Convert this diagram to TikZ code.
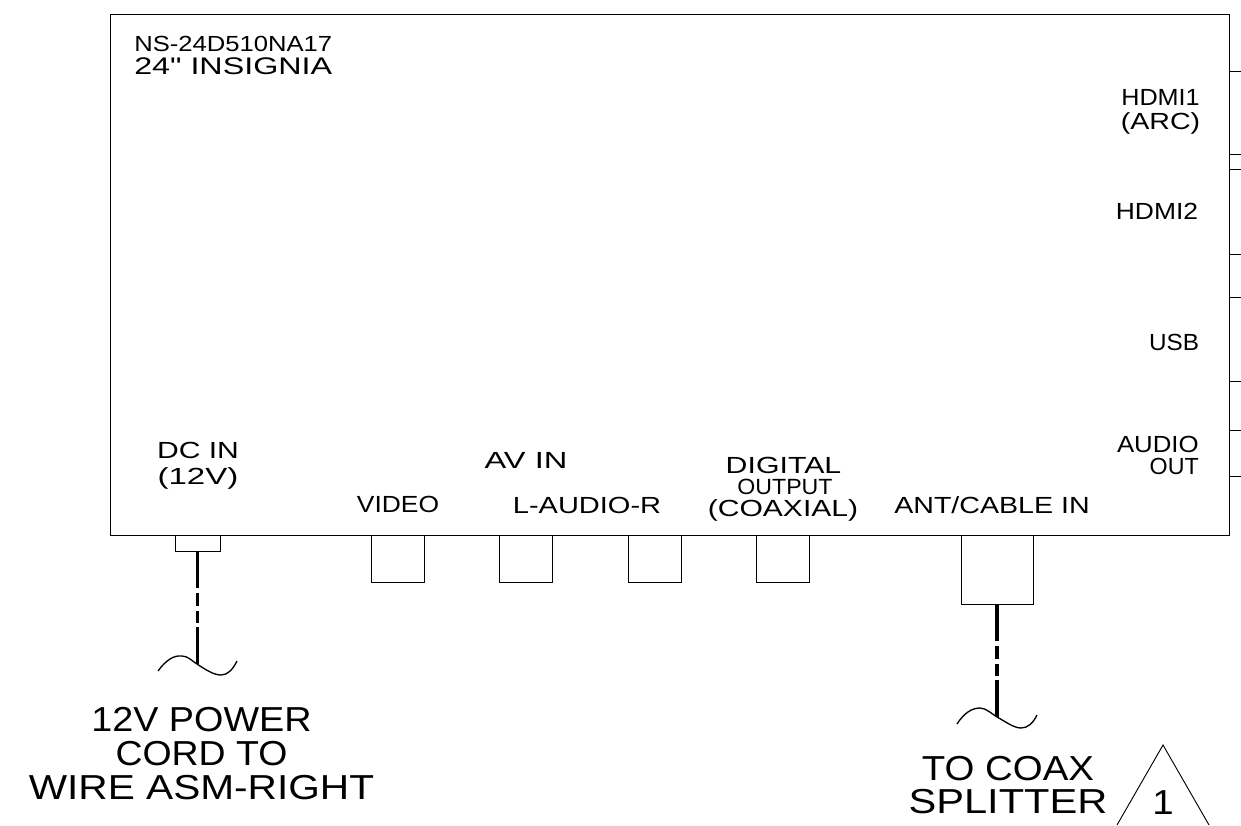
\documentclass[tikz,border=0pt]{standalone}
\usepackage{fontspec}
\newfontfamily\lbfont{Liberation Sans}
\newcommand{\fs}[2]{\lbfont\fontsize{#1}{#2}\selectfont}
\newcommand{\sx}[2]{\scalebox{#1}[1]{#2}}
\tikzset{
  x=0.75pt,y=-0.75pt,
  line/.style={draw=black,line width=0.7pt},
  portbox/.style={draw=black,line width=0.6pt,minimum width=53*0.75pt,minimum height=47*0.75pt,inner sep=0pt,outer sep=0pt,fill=none},
  wire/.style={line width=2.5pt,draw=black,dash pattern=on 37*0.75pt off 5*0.75pt on 13*0.75pt off 5*0.75pt on 12*0.75pt off 4*0.75pt on 38*0.75pt off 0pt},
  wave/.style={line width=1pt,draw=black},
  small/.style={inner sep=0pt,font=\fs{17.5}{16.5},align=center},
  big/.style={inner sep=0pt,font=\fs{26}{25.3},align=center},
}
\begin{document}
\begin{tikzpicture}
\useasboundingbox (0,0) rectangle (1241,825);
\node[draw=black,line width=0.7pt,minimum width=1119*0.75pt,minimum height=521*0.75pt,inner sep=0pt,outer sep=0pt] (tv) at (669.5,274.5) {};
% right ticks
\foreach \y/\n in {71/a,154/b,169/c,254/d,297/e,381/f,430/g,476/h}{
  \coordinate (t\n) at (1241,\y);
  \draw[line,line width=0.6pt] (tv.east |- t\n) -- (t\n);
}
% ports
\node[portbox,minimum width=45*0.75pt,minimum height=16*0.75pt] (dc) at (197.5,543) {};
\node[portbox] (video) at (397.5,558.5) {};
\node[portbox] (audl) at (525.5,558.5) {};
\node[portbox] (audr) at (654.5,558.5) {};
\node[portbox] (coax) at (783,558.5) {};
\node[portbox,minimum width=72*0.75pt,minimum height=69*0.75pt] (ant) at (997,569.5) {};
% wires
\coordinate (dcend) at (197.5,664);
\coordinate (antend) at (997,717);
\draw[wire] (dc.south) -- (dcend);
\draw[wire] (ant.south) -- (antend);
\draw[wave] (158,671) .. controls (166,660) and (174,655) .. (182,656) .. controls (188,656) and (192,661) .. (197,664) .. controls (206,670) and (214,675) .. (221,675) .. controls (228,675) and (233,669) .. (237,661);
\draw[wave] (957,724) .. controls (964,713) and (972,708) .. (980,708) .. controls (986,708) and (992,714) .. (997,717) .. controls (1006,722) and (1014,728) .. (1021,728) .. controls (1028,728) and (1033,723) .. (1037,715);
% triangle
\coordinate (tria) at (1163,745);
\coordinate (tril) at (1117,825);
\coordinate (trir) at (1209,825);
\draw[line] (tril) -- (tria) -- (trir);
% texts
\node[small,font=\fs{17.5}{17},align=left,anchor=west] (model) at (134,55.5) {\sx{1.171}{\fontsize{16.4}{16.4}\selectfont NS-24D510NA17}\\\sx{1.344}{\fontsize{18}{18}\selectfont 24" INSIGNIA}};
\node[small,font=\fs{17.5}{17.5}] (hdmia) at (1160.5,112) {\sx{1.08}{HDMI1}\\\sx{1.225}{(ARC)}};
\node[small] (hdmib) at (1157,211) {\sx{1.133}{HDMI2}};
\node[small] (usb) at (1174,342) {\sx{1.042}{USB}};
\node[small,align=right,anchor=east] (aud) at (1199,455) {\sx{1.106}{AUDIO}\\\sx{0.996}{OUT}};
\node[small,font=\fs{17.5}{19.5}] (dcin) at (198,465.5) {\sx{1.289}{DC IN}\\\sx{1.417}{(12V)}};
\node[small] (vid) at (398,504) {\sx{1.133}{VIDEO}};
\node[small] (avin) at (526,460) {\sx{1.398}{AV IN}};
\node[small] (laud) at (587,505) {\sx{1.243}{L-AUDIO-R}};
\node[small] (dig) at (783.5,465) {\sx{1.298}{DIGITAL}};
\node[small,font=\fs{16.5}{16.5}] (outp) at (785,486.5) {\sx{1.052}{OUTPUT}};
\node[small] (coaxl) at (783,510) {\sx{1.289}{(COAXIAL)}};
\node[small] (antl) at (992,505) {\sx{1.225}{ANT/CABLE IN}};
\node[big] (pwr) at (201.5,753.5) {\sx{1.089}{12V POWER}\\\sx{1.08}{CORD TO}\\\sx{1.172}{WIRE ASM-RIGHT}};
\node[big] (tocoax) at (1008,785) {\sx{1.108}{TO COAX}\\\sx{1.2}{SPLITTER}};
\node[big] (one) at (1163,803) {\sx{1.108}{1}};
\end{tikzpicture}
\end{document}
